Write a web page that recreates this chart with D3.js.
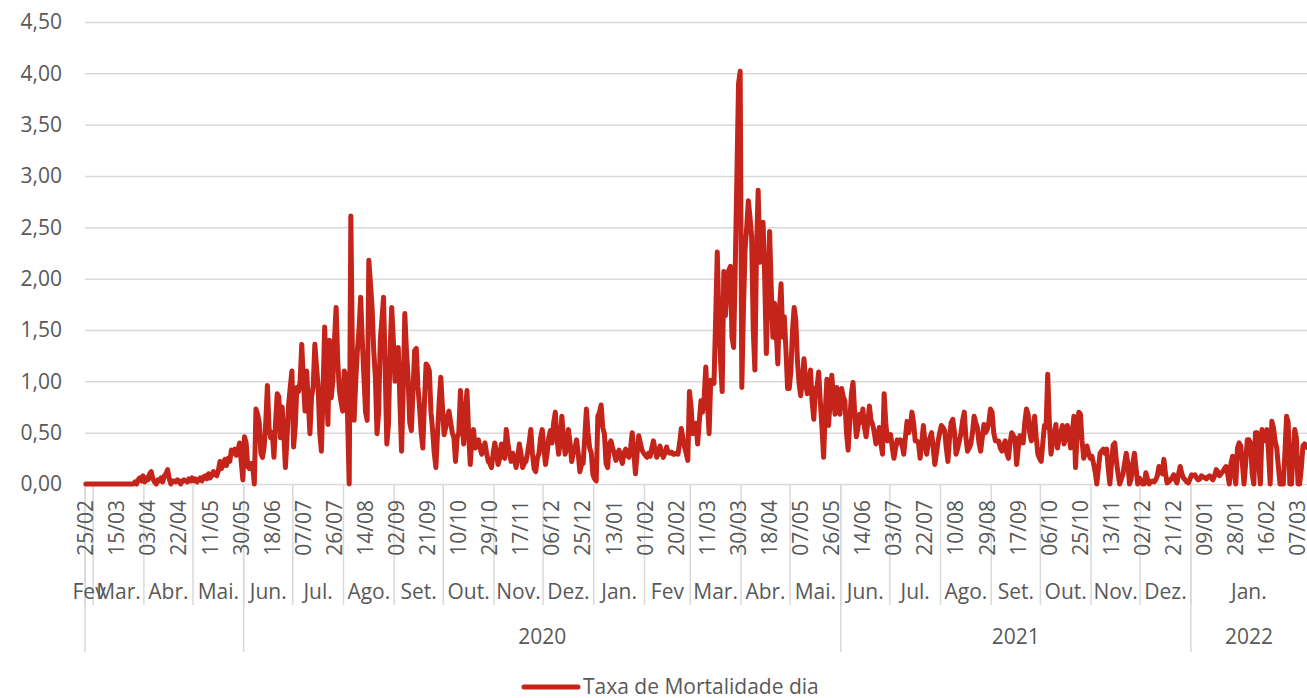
<!DOCTYPE html>
<html>
<head>
<meta charset="utf-8">
<script src="https://cdn.jsdelivr.net/npm/d3@7"></script>
<style>
  body { margin: 0; background: #fff; }
  svg { display: block; font-family: "Open Sans", sans-serif; }
</style>
</head>
<body>
<svg id="chart" width="1307" height="698"></svg>
<script>
// daily values, one array per month
const fev2020 = [0, 0, 0, 0, 0];
const mar2020 = [0, 0, 0, 0, 0, 0, 0, 0, 0, 0, 0, 0, 0, 0, 0, 0, 0, 0, 0, 0, 0, 0, 0, 0, 0, 0.02, 0, 0.04, 0.06, 0.03, 0.08];
const abr2020 = [0.02, 0.06, 0.04, 0.1, 0.12, 0.05, 0.02, 0, 0.04, 0.03, 0.06, 0.02, 0.08, 0.1, 0.14, 0.05, 0, 0.03, 0.03, 0.02, 0.04, 0.03, 0, 0.03, 0.04, 0.03, 0.02, 0.05, 0.03, 0.06];
const mai2020 = [0.03, 0.05, 0.02, 0.04, 0.06, 0.03, 0.07, 0.08, 0.05, 0.1, 0.06, 0.08, 0.12, 0.1, 0.08, 0.13, 0.22, 0.15, 0.2, 0.24, 0.18, 0.25, 0.22, 0.33, 0.3, 0.34, 0.28, 0.33, 0.4, 0.22, 0.04];
const jun2020 = [0.46, 0.4, 0.17, 0.15, 0.2, 0.18, 0, 0.73, 0.68, 0.6, 0.3, 0.26, 0.36, 0.6, 0.96, 0.55, 0.45, 0.5, 0.26, 0.6, 0.88, 0.85, 0.45, 0.75, 0.5, 0.16, 0.45, 0.78, 0.95, 1.1];
const jul2020 = [0.36, 0.55, 0.94, 0.9, 1.0, 1.36, 1.0, 0.71, 1.1, 0.8, 0.49, 0.85, 0.95, 1.36, 1.15, 0.95, 0.5, 0.32, 0.9, 1.53, 1.0, 0.58, 1.4, 0.84, 1.0, 1.4, 1.72, 1.2, 0.91, 0.8, 0.71];
const ago2020 = [1.1, 1.05, 0.65, 0, 2.61, 1.2, 0.62, 1.0, 1.3, 1.5, 1.82, 1.4, 1.04, 0.7, 0.62, 2.18, 1.95, 1.72, 1.3, 1.04, 0.49, 0.7, 1.4, 1.6, 1.82, 1.1, 0.39, 0.58, 1.3, 1.72, 1.4];
const set2020 = [1.0, 1.1, 1.33, 0.8, 0.32, 0.9, 1.66, 1.3, 1.04, 0.6, 0.52, 0.9, 1.3, 1.32, 0.95, 0.75, 0.5, 0.35, 0.8, 1.17, 1.15, 1.1, 0.7, 0.52, 0.3, 0.16, 0.5, 0.8, 1.04, 0.75];
const out2020 = [0.48, 0.55, 0.65, 0.71, 0.6, 0.5, 0.45, 0.22, 0.45, 0.5, 0.91, 0.6, 0.39, 0.7, 0.91, 0.5, 0.19, 0.45, 0.53, 0.35, 0.38, 0.43, 0.35, 0.29, 0.35, 0.4, 0.3, 0.22, 0.2, 0.16, 0.3];
const nov2020 = [0.4, 0.3, 0.19, 0.25, 0.39, 0.3, 0.25, 0.53, 0.4, 0.29, 0.22, 0.3, 0.25, 0.16, 0.25, 0.39, 0.3, 0.16, 0.2, 0.22, 0.3, 0.4, 0.53, 0.3, 0.15, 0.12, 0.25, 0.3, 0.45, 0.53];
const dez2020 = [0.35, 0.19, 0.3, 0.45, 0.52, 0.4, 0.6, 0.7, 0.45, 0.29, 0.4, 0.66, 0.45, 0.29, 0.35, 0.53, 0.4, 0.22, 0.3, 0.35, 0.43, 0.3, 0.12, 0.19, 0.2, 0.45, 0.73, 0.5, 0.35, 0.3, 0.09];
const jan2021 = [0.05, 0.03, 0.66, 0.7, 0.77, 0.55, 0.49, 0.2, 0.16, 0.39, 0.42, 0.35, 0.3, 0.23, 0.3, 0.33, 0.25, 0.2, 0.3, 0.34, 0.28, 0.26, 0.35, 0.5, 0.3, 0.1, 0.3, 0.47, 0.4, 0.33, 0.3];
const fev2021 = [0.28, 0.26, 0.3, 0.27, 0.35, 0.42, 0.33, 0.26, 0.3, 0.37, 0.3, 0.26, 0.3, 0.36, 0.31, 0.3, 0.31, 0.29, 0.29, 0.3, 0.29, 0.4, 0.54, 0.45, 0.36, 0.3, 0.23, 0.9];
const mar2021 = [0.75, 0.49, 0.55, 0.59, 0.39, 0.6, 0.81, 0.7, 0.85, 1.14, 0.8, 0.49, 1.01, 1.0, 0.98, 1.6, 2.26, 1.63, 1.2, 0.9, 2.07, 1.64, 1.9, 2.08, 2.12, 1.43, 1.33, 2.11, 3.0, 3.9, 4.02];
const abr2021 = [0.94, 1.7, 2.28, 2.5, 2.76, 2.6, 2.41, 1.5, 1.11, 2.3, 2.86, 2.16, 2.3, 2.55, 2.0, 1.27, 1.9, 2.46, 1.9, 1.43, 1.76, 1.5, 1.17, 1.7, 1.95, 1.43, 1.63, 1.3, 0.93, 0.93];
const mai2021 = [1.1, 1.5, 1.72, 1.6, 1.2, 0.98, 0.86, 1.0, 1.22, 1.0, 0.88, 1.0, 1.11, 0.8, 0.63, 0.93, 0.95, 1.09, 0.8, 0.55, 0.26, 0.7, 1.02, 0.57, 0.8, 1.06, 0.85, 0.68, 0.94, 0.8, 0.68];
const jun2021 = [0.93, 0.85, 0.81, 0.5, 0.33, 0.6, 0.88, 0.99, 0.7, 0.46, 0.55, 0.68, 0.6, 0.73, 0.55, 0.46, 0.6, 0.76, 0.62, 0.58, 0.5, 0.39, 0.45, 0.55, 0.4, 0.29, 0.88, 0.6, 0.42, 0.45];
const jul2021 = [0.48, 0.35, 0.25, 0.35, 0.43, 0.4, 0.43, 0.38, 0.29, 0.45, 0.61, 0.5, 0.55, 0.7, 0.6, 0.42, 0.42, 0.4, 0.25, 0.4, 0.57, 0.4, 0.29, 0.4, 0.45, 0.5, 0.35, 0.19, 0.3, 0.42, 0.5];
const ago2021 = [0.57, 0.55, 0.52, 0.35, 0.22, 0.45, 0.6, 0.63, 0.5, 0.29, 0.35, 0.42, 0.5, 0.62, 0.7, 0.45, 0.32, 0.35, 0.39, 0.5, 0.66, 0.6, 0.55, 0.4, 0.32, 0.45, 0.58, 0.5, 0.53, 0.6, 0.73];
const set2021 = [0.7, 0.5, 0.42, 0.42, 0.42, 0.35, 0.32, 0.38, 0.42, 0.3, 0.25, 0.4, 0.5, 0.47, 0.45, 0.19, 0.35, 0.47, 0.45, 0.4, 0.6, 0.73, 0.68, 0.5, 0.42, 0.55, 0.66, 0.45, 0.29, 0.25];
const out2021 = [0.22, 0.4, 0.57, 0.55, 1.07, 0.6, 0.29, 0.4, 0.5, 0.58, 0.35, 0.45, 0.5, 0.57, 0.39, 0.45, 0.57, 0.5, 0.35, 0.5, 0.66, 0.16, 0.5, 0.7, 0.68, 0.42, 0.25, 0.3, 0.37, 0.3, 0.25];
const nov2021 = [0.27, 0.2, 0.12, 0, 0.15, 0.3, 0.32, 0.34, 0.3, 0.34, 0.15, 0, 0.2, 0.38, 0.4, 0.22, 0.1, 0, 0.05, 0.1, 0.2, 0.3, 0.2, 0, 0.05, 0.2, 0.3, 0.15, 0, 0.06];
const dez2021 = [0.03, 0, 0, 0.11, 0.05, 0, 0.02, 0.03, 0.02, 0.04, 0.08, 0.17, 0.12, 0.1, 0.24, 0.1, 0.01, 0.02, 0.04, 0.06, 0.09, 0.04, 0.01, 0.1, 0.17, 0.1, 0.06, 0.04, 0.02, 0.01, 0.05];
const jan2022 = [0.09, 0.08, 0.09, 0.06, 0.04, 0.05, 0.08, 0.07, 0.06, 0.05, 0.07, 0.08, 0.06, 0.04, 0.08, 0.14, 0.12, 0.08, 0.1, 0.12, 0.15, 0.17, 0.1, 0, 0.2, 0.27, 0.1, 0, 0.35, 0.4, 0.37];
const fev2022 = [0.2, 0, 0.2, 0.43, 0.43, 0.4, 0.1, 0, 0.5, 0.5, 0.2, 0, 0.53, 0.42, 0.45, 0.53, 0.3, 0, 0.61, 0.55, 0.42, 0.35, 0.17, 0, 0, 0, 0.3, 0.66];
const mar2022 = [0.6, 0, 0, 0.3, 0.53, 0.45, 0, 0, 0.15, 0.37, 0.39, 0.36];

// category axis groups (Excel multi-level labels)
const monthLabels = ["Fev", "Mar.", "Abr.", "Mai.", "Jun.", "Jul.", "Ago.", "Set.", "Out.", "Nov.", "Dez.",
  "Jan.", "Fev", "Mar.", "Abr.", "Mai.", "Jun.", "Jul.", "Ago.", "Set.", "Out.", "Nov.", "Dez.", "Jan."];
const monthStarts = ["2020-02-25", "2020-03-01", "2020-04-01", "2020-05-01", "2020-06-01", "2020-07-01",
  "2020-08-01", "2020-09-01", "2020-10-01", "2020-11-01", "2020-12-01", "2021-01-01", "2021-02-01",
  "2021-03-01", "2021-04-01", "2021-05-01", "2021-06-01", "2021-07-01", "2021-08-01", "2021-09-01",
  "2021-10-01", "2021-11-01", "2021-12-01", "2022-01-01"];
const yearLabels = ["", "2020", "2021", "2022"];
const yearStarts = ["2020-02-25", "2020-06-01", "2021-06-01", "2022-01-01"];
const firstDay = "2020-02-25";
const labelEvery = 19;
const yTicks = [0, 0.5, 1, 1.5, 2, 2.5, 3, 3.5, 4, 4.5];
const seriesName = "Taxa de Mortalidade dia";

const taxa = [].concat(fev2020, mar2020, abr2020, mai2020, jun2020, jul2020, ago2020, set2020,
  out2020, nov2020, dez2020, jan2021, fev2021, mar2021, abr2021, mai2021, jun2021, jul2021,
  ago2021, set2021, out2021, nov2021, dez2021, jan2022, fev2022, mar2022);

const parse = d3.timeParse("%Y-%m-%d"),
  key = d3.timeFormat("%Y-%m-%d"),
  dayLabel = d3.timeFormat("%d/%m");
const start = parse(firstDay);
const days = d3.timeDay.range(start, d3.timeDay.offset(start, taxa.length)).map(key);
const data = days.map((d, i) => ({ day: d, value: taxa[i] }));

const plotLeft = 85, plotRight = 1307, plotTop = 22, plotBottom = 484;
const textColor = "#595959", gridColor = "#d9d9d9", lineColor = "#c42419";
const fontSize = 21;

const svg = d3.select("#chart");

const x = d3.scaleBand().domain(days).range([plotLeft, plotRight]).padding(0);
const y = d3.scaleLinear().domain([0, 4.5]).range([plotBottom, plotTop]);
const cx = d => x(d) + x.bandwidth() / 2;

const pt = d3.formatLocale({ decimal: ",", thousands: ".", grouping: [3], currency: ["R$", ""] });
const fmt = pt.format(".2f");

// horizontal grid + y labels
const yAxis = svg.append("g")
  .attr("transform", `translate(${plotLeft},0)`)
  .call(d3.axisLeft(y).tickValues(yTicks).tickFormat(fmt).tickSize(-(plotRight - plotLeft)).tickPadding(23));
yAxis.select(".domain").remove();
yAxis.selectAll(".tick line").attr("stroke", gridColor).attr("stroke-width", 1.5);
yAxis.selectAll(".tick text")
  .attr("fill", textColor)
  .style("font-size", fontSize + "px")
  .style("font-family", "'Open Sans', sans-serif");

// month / year divider lines under the axis
const cat = svg.append("g");

// date labels every 19 days
const xAxis = svg.append("g")
  .attr("transform", `translate(0,${plotBottom})`)
  .call(d3.axisBottom(x).tickValues(days.filter((d, i) => i % labelEvery === 0)).tickSize(0)
    .tickFormat(d => dayLabel(parse(d))));
xAxis.select(".domain").remove();
xAxis.selectAll(".tick text")
  .attr("transform", "rotate(-90)")
  .attr("x", -16)
  .attr("y", 0)
  .attr("dy", "0.35em")
  .attr("text-anchor", "end")
  .attr("fill", textColor)
  .style("font-size", fontSize + "px")
  .style("font-family", "'Open Sans', sans-serif");

// group spans
function spans(starts, labels) {
  return starts.map((s, i) => {
    const x0 = x(s);
    const x1 = i < starts.length - 1 ? x(starts[i + 1]) : plotRight;
    return { label: labels[i], x0, x1 };
  });
}
const months = spans(monthStarts, monthLabels);
const years = spans(yearStarts, yearLabels);

cat.selectAll("line.month")
  .data(months)
  .join("line")
  .attr("class", "month")
  .attr("x1", d => d.x0).attr("x2", d => d.x0)
  .attr("y1", plotBottom).attr("y2", 605)
  .attr("stroke", gridColor).attr("stroke-width", 1.5);
cat.selectAll("line.year")
  .data(years)
  .join("line")
  .attr("class", "year")
  .attr("x1", d => d.x0).attr("x2", d => d.x0)
  .attr("y1", plotBottom).attr("y2", 652)
  .attr("stroke", gridColor).attr("stroke-width", 1.5);
cat.selectAll("text.month")
  .data(months)
  .join("text")
  .attr("class", "month")
  .attr("x", d => (d.x0 + d.x1) / 2)
  .attr("y", 592)
  .attr("dy", "0.35em")
  .attr("text-anchor", "middle")
  .attr("fill", textColor)
  .style("font-size", fontSize + "px")
  .text(d => d.label);
cat.selectAll("text.year")
  .data(years)
  .join("text")
  .attr("class", "year")
  .attr("x", d => (d.x0 + d.x1) / 2)
  .attr("y", 637)
  .attr("dy", "0.35em")
  .attr("text-anchor", "middle")
  .attr("fill", textColor)
  .style("font-size", fontSize + "px")
  .text(d => d.label);

// the series
const line = d3.line().x(d => cx(d.day)).y(d => y(d.value));
svg.append("path")
  .datum(data)
  .attr("d", line)
  .attr("fill", "none")
  .attr("stroke", lineColor)
  .attr("stroke-width", 5)
  .attr("stroke-linejoin", "round")
  .attr("stroke-linecap", "round");

// legend
const legend = svg.append("g").attr("transform", "translate(524,687)");
legend.append("line")
  .attr("x1", 0).attr("x2", 54)
  .attr("stroke", lineColor).attr("stroke-width", 5).attr("stroke-linecap", "round");
legend.append("text")
  .attr("x", 59)
  .attr("dy", "0.35em")
  .attr("fill", textColor)
  .style("font-size", fontSize + "px")
  .text(seriesName);
</script>
</body>
</html>
